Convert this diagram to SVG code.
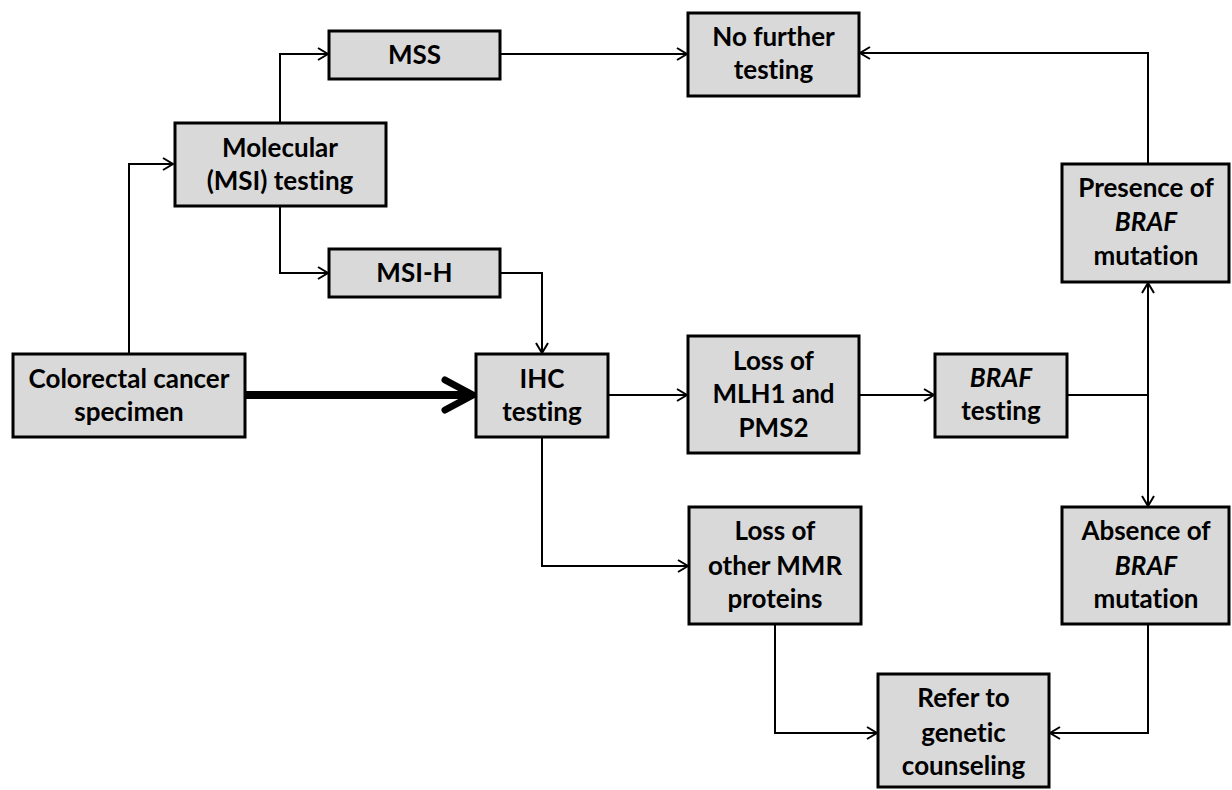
<svg xmlns="http://www.w3.org/2000/svg" width="1232" height="790" viewBox="0 0 1232 790">
<style>
.box{fill:#d9d9d9;stroke:#000;stroke-width:3}
.lbl{font-family:Lato,"Liberation Sans",sans-serif;font-weight:700;font-size:26px;fill:#000;text-anchor:middle;font-variant-ligatures:none;font-feature-settings:"liga" 0}
.it{font-style:italic}
.c{fill:none;stroke:#000;stroke-width:2}
</style>
<defs>
<marker id="arr" viewBox="0 0 14 14" refX="12" refY="7" markerWidth="14" markerHeight="14" markerUnits="userSpaceOnUse" orient="auto">
<path d="M2,1 L12,7 L2,13" fill="none" stroke="#000" stroke-width="2"/>
</marker>
</defs>
<rect width="1232" height="790" fill="#fff"/>
<g id="connectors">
<path class="c" d="M129,354 V164 H173" marker-end="url(#arr)"/>
<path class="c" d="M280,123 V54 H328" marker-end="url(#arr)"/>
<path class="c" d="M280,206 V273 H328" marker-end="url(#arr)"/>
<path class="c" d="M500,54 H687" marker-end="url(#arr)"/>
<path class="c" d="M500,273 H542 V353" marker-end="url(#arr)"/>
<path class="c" d="M608,395 H687" marker-end="url(#arr)"/>
<path class="c" d="M859,395 H934" marker-end="url(#arr)"/>
<path class="c" d="M1067,395 H1148"/>
<path class="c" d="M1148,395 V283" marker-end="url(#arr)"/>
<path class="c" d="M1148,395 V506" marker-end="url(#arr)"/>
<path class="c" d="M1148,164 V53 H860" marker-end="url(#arr)"/>
<path class="c" d="M542,437 V566 H688" marker-end="url(#arr)"/>
<path class="c" d="M775,624 V733 H877" marker-end="url(#arr)"/>
<path class="c" d="M1148,624 V733 H1050" marker-end="url(#arr)"/>
<g id="thick-arrow">
<line x1="245" y1="395" x2="470" y2="395" stroke="#000" stroke-width="8"/>
<path d="M445,380 L473,395 L445,410" fill="none" stroke="#000" stroke-width="7" stroke-linecap="round" stroke-linejoin="round"/>
</g>
</g>
<g id="mss"><rect class="box" x="329" y="31" width="171" height="48"/><text class="lbl" x="414.5" y="64">MSS</text></g>
<g id="molecular"><rect class="box" x="175" y="123" width="211" height="83"/><text class="lbl" x="280" y="157">Molecular</text><text class="lbl" x="280" y="190">(MSI) testing</text></g>
<g id="msih"><rect class="box" x="329" y="249" width="171" height="48"/><text class="lbl" x="414.5" y="282">MSI-H</text></g>
<g id="colorectal"><rect class="box" x="13" y="354" width="232" height="83"/><text class="lbl" x="129" y="388">Colorectal cancer</text><text class="lbl" x="129" y="421">specimen</text></g>
<g id="ihc"><rect class="box" x="476" y="354" width="132" height="83"/><text class="lbl" x="542" y="388">IHC</text><text class="lbl" x="542" y="421">testing</text></g>
<g id="nofurther"><rect class="box" x="688" y="13" width="171" height="83"/><text class="lbl" x="773.5" y="46">No further</text><text class="lbl" x="773.5" y="79">testing</text></g>
<g id="presence"><rect class="box" x="1062" y="164" width="167" height="118"/><text class="lbl" x="1146" y="197">Presence of</text><text class="lbl it" x="1146" y="231">BRAF</text><text class="lbl" x="1146" y="265">mutation</text></g>
<g id="lossmlh1"><rect class="box" x="688" y="336" width="171" height="117"/><text class="lbl" x="773.5" y="370">Loss of</text><text class="lbl" x="773.5" y="403">MLH1 and</text><text class="lbl" x="773.5" y="437">PMS2</text></g>
<g id="braf"><rect class="box" x="935" y="354" width="132" height="83"/><text class="lbl it" x="1001" y="387">BRAF</text><text class="lbl" x="1001" y="420">testing</text></g>
<g id="lossother"><rect class="box" x="689" y="507" width="172" height="117"/><text class="lbl" x="775" y="540">Loss of</text><text class="lbl" x="775" y="575">other MMR</text><text class="lbl" x="775" y="608">proteins</text></g>
<g id="absence"><rect class="box" x="1062" y="507" width="167" height="117"/><text class="lbl" x="1146" y="540">Absence of</text><text class="lbl it" x="1146" y="575">BRAF</text><text class="lbl" x="1146" y="608">mutation</text></g>
<g id="refer"><rect class="box" x="878" y="674" width="171" height="113"/><text class="lbl" x="963.5" y="707">Refer to</text><text class="lbl" x="963.5" y="742">genetic</text><text class="lbl" x="963.5" y="775">counseling</text></g>
</svg>
